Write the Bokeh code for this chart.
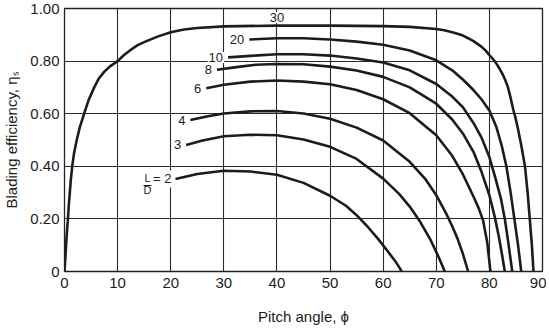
from bokeh.plotting import figure
from bokeh.models import Range1d, FixedTicker, Label
from bokeh.embed import file_html
from bokeh.resources import INLINE

# ---- data: pitch angle (deg) vs blading efficiency ----
phi_2 = [20.9, 25, 30, 35, 40, 45, 50, 53, 55, 57, 59, 61, 62.5, 63.5]
eta_2 = [0.352, 0.371, 0.383, 0.380, 0.368, 0.337, 0.288, 0.250, 0.214, 0.172, 0.125, 0.073, 0.033, 0.0]

phi_3 = [22.9, 26, 30, 35, 40, 45, 50, 55, 60, 63, 65, 67, 69, 70.5, 71.6]
eta_3 = [0.481, 0.498, 0.514, 0.520, 0.518, 0.502, 0.474, 0.428, 0.353, 0.295, 0.247, 0.188, 0.117, 0.052, 0.0]

phi_4 = [23.7, 27, 30, 35, 40, 45, 50, 55, 60, 65, 68, 70, 72, 73, 74, 75, 76]
eta_4 = [0.576, 0.590, 0.601, 0.609, 0.610, 0.601, 0.581, 0.547, 0.498, 0.417, 0.350, 0.290, 0.215, 0.172, 0.125, 0.068, 0.0]

phi_6 = [26.7, 30, 35, 40, 45, 50, 55, 60, 65, 70, 73, 75, 77, 78, 78.8, 79.6, 80.2]
eta_6 = [0.697, 0.710, 0.722, 0.726, 0.722, 0.712, 0.690, 0.655, 0.602, 0.518, 0.440, 0.370, 0.285, 0.240, 0.195, 0.110, 0.0]

phi_8 = [28.7, 32, 36, 40, 45, 50, 55, 60, 65, 70, 73, 75, 77, 78.5, 80, 81.1, 81.8, 82.4, 82.9]
eta_8 = [0.767, 0.776, 0.786, 0.789, 0.788, 0.779, 0.764, 0.740, 0.700, 0.638, 0.578, 0.525, 0.455, 0.380, 0.290, 0.200, 0.130, 0.062, 0.0]

phi_10 = [30.8, 35, 40, 45, 50, 55, 60, 65, 70, 73, 75, 77, 78.5, 80, 81.2, 82.2, 82.9, 83.6, 84.3]
eta_10 = [0.814, 0.820, 0.826, 0.826, 0.821, 0.810, 0.795, 0.765, 0.713, 0.665, 0.625, 0.565, 0.510, 0.435, 0.350, 0.275, 0.200, 0.105, 0.0]

phi_20 = [34.8, 40, 45, 50, 55, 60, 65, 70, 73, 75, 77, 78.5, 80, 81.3, 82.3, 83.2, 84.0, 84.7, 85.4, 86.0]
eta_20 = [0.882, 0.887, 0.887, 0.882, 0.874, 0.862, 0.840, 0.803, 0.765, 0.730, 0.690, 0.655, 0.612, 0.550, 0.480, 0.400, 0.300, 0.200, 0.100, 0.0]

phi_30 = [0, 0.15, 0.3, 0.45, 0.65, 0.8, 1.0, 1.2, 1.45, 1.8, 2.3, 2.9, 3.7, 4.5, 5.6, 6.5, 7.5, 8.7,
          10, 11.2, 12.5, 13.7, 15, 17.5, 20, 22.5, 25, 30, 40, 50, 60, 65, 70, 71.5,
          73, 74, 75, 76, 77, 78.5, 79.3, 80, 80.8, 81.5, 82, 82.5, 83, 83.5, 84, 84.5, 84.9,
          85.3, 86.0, 86.7, 87.2, 87.6, 88.0, 88.3]
eta_30 = [0.0, 0.05, 0.10, 0.15, 0.20, 0.25, 0.30, 0.35, 0.40, 0.45, 0.50, 0.55, 0.60, 0.65, 0.70, 0.735, 0.76, 0.782,
          0.80, 0.823, 0.843, 0.860, 0.872, 0.893, 0.910, 0.920, 0.926, 0.932, 0.935, 0.935, 0.933, 0.930, 0.922, 0.917,
          0.910, 0.904, 0.897, 0.887, 0.876, 0.855, 0.840, 0.823, 0.805, 0.785, 0.768, 0.750, 0.727, 0.700, 0.660, 0.615, 0.585,
          0.550, 0.480, 0.400, 0.300, 0.200, 0.100, 0.0]

x_ticks = [0, 10, 20, 30, 40, 50, 60, 70, 80, 90]
y_ticks = [0, 0.2, 0.4, 0.6, 0.8, 1.0]
y_tick_labels = ["0", "0.20", "0.40", "0.60", "0.80", "1.00"]

curves = [
    ("2", phi_2, eta_2),
    ("3", phi_3, eta_3),
    ("4", phi_4, eta_4),
    ("6", phi_6, eta_6),
    ("8", phi_8, eta_8),
    ("10", phi_10, eta_10),
    ("20", phi_20, eta_20),
    ("30", phi_30, eta_30),
]

FONT = "Liberation Sans"
INK = "#1c1c1c"

p = figure(
    frame_width=478, frame_height=263,
    min_border_left=59, min_border_right=4, min_border_top=8, min_border_bottom=54,
    x_range=Range1d(0, 90), y_range=Range1d(0, 1),
    output_backend="svg", toolbar_location=None,
)
p.background_fill_color = "white"
p.border_fill_color = "white"
p.outline_line_color = "#222222"
p.outline_line_width = 1.3

p.xaxis.ticker = FixedTicker(ticks=x_ticks)
p.yaxis.ticker = FixedTicker(ticks=y_ticks)
p.yaxis.major_label_overrides = {t: s for t, s in zip(y_ticks, y_tick_labels)}
p.xaxis.major_label_overrides = {t: str(t) for t in x_ticks}

for ax in (p.xaxis, p.yaxis):
    ax.axis_line_color = None
    ax.major_tick_line_color = None
    ax.minor_tick_line_color = None
    ax.major_tick_out = 0
    ax.major_tick_in = 0
    ax.major_label_text_font = FONT
    ax.major_label_text_font_size = "15px"
    ax.major_label_text_color = INK
    ax.axis_label_text_font = FONT
    ax.axis_label_text_font_size = "15px"
    ax.axis_label_text_font_style = "normal"
    ax.axis_label_text_color = INK

p.xaxis.axis_label = "Pitch angle, \u03d5"
p.yaxis.axis_label = "Blading efficiency, \u03b7\u209b"
p.xaxis.major_label_standoff = 6
p.yaxis.major_label_standoff = 5
p.xaxis.axis_label_standoff = 17
p.yaxis.axis_label_standoff = 7

p.xgrid.ticker = FixedTicker(ticks=x_ticks)
p.ygrid.ticker = FixedTicker(ticks=y_ticks)
p.grid.grid_line_color = "#2a2a2a"
p.grid.grid_line_width = 1.1

# curve labels, drawn under the curves but over the grid
def add_label(text, x, y, xo, yo, align="right", size="13px", bg="white"):
    lab = Label(x=x, y=y, x_offset=xo, y_offset=yo, text=text,
                text_align=align, text_baseline="middle",
                text_font=FONT, text_font_size=size, text_color=INK,
                background_fill_color=bg, padding=1, level="underlay")
    p.add_layout(lab)

for name, xs, ys in curves:
    if name == "30":
        add_label(name, xs[28], ys[28], 0, 8, align="center")
    elif name == "2":
        add_label("= 2", xs[0], ys[0], -3, 0)
        add_label("\u2013", xs[0], ys[0], -28, -5, align="center", size="14px", bg=None)
        add_label("L", xs[0], ys[0], -28, 1, align="center", size="11px", bg=None)
        add_label("D", xs[0], ys[0], -28, -11, align="center", size="11px", bg=None)
    else:
        add_label(name, xs[0], ys[0], -4, 0)

for name, xs, ys in curves:
    p.line(xs, ys, line_color=INK, line_width=2.6, line_join="round", line_cap="butt")

open("out.html", "w").write(file_html(p, INLINE))
